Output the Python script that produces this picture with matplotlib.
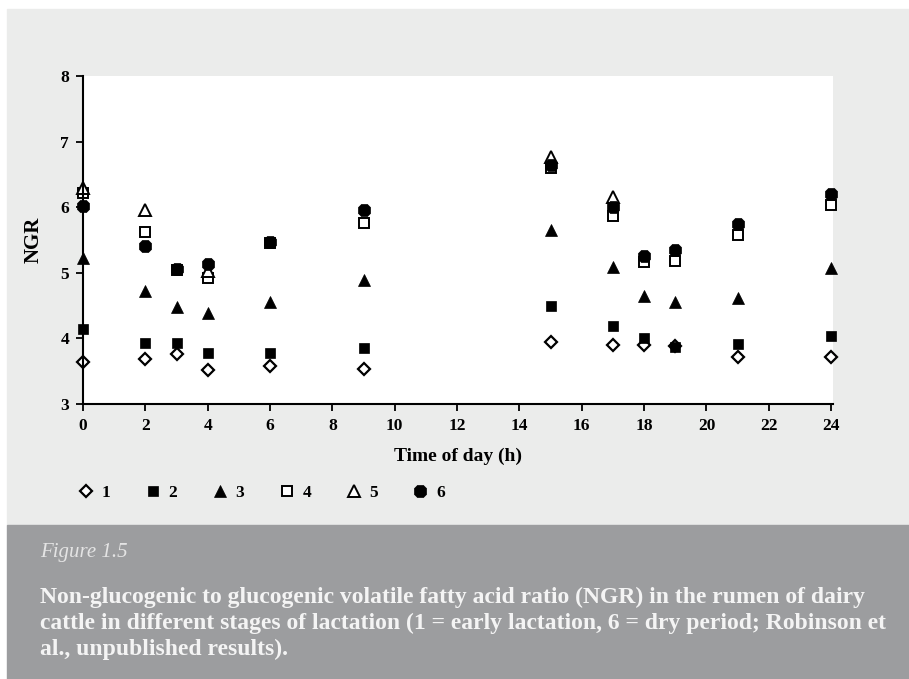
import numpy as np
import matplotlib
matplotlib.use("Agg")
import matplotlib.pyplot as plt
from matplotlib.patches import Rectangle

plt.rcParams['font.family'] = ['Liberation Serif', 'DejaVu Serif']

nan = np.nan
hours = [0, 2, 3, 4, 6, 9, 15, 17, 18, 19, 21, 24]
ngr1 = [3.64, 3.68, 3.76, 3.52, 3.58, 3.54, 3.95, 3.90, 3.90, 3.88, 3.71, 3.71]
ngr2 = [4.15, 3.93, 3.93, 3.78, 3.77, 3.85, 4.49, 4.19, 4.00, 3.87, 3.91, 4.03]
ngr3 = [5.22, 4.73, 4.48, 4.38, 4.56, 4.89, 5.65, 5.09, 4.64, 4.56, 4.62, 5.08]
ngr4 = [6.21, 5.62, 5.04, 4.92, 5.45, 5.76, 6.60, 5.86, 5.17, 5.18, 5.58, 6.03]
ngr5 = [6.29, 5.96, nan, 5.02, nan, nan, 6.77, 6.15, nan, nan, nan, nan]
ngr6 = [6.02, 5.41, 5.06, 5.14, 5.47, 5.95, 6.64, 6.00, 5.26, 5.35, 5.75, 6.20]
labels = ['1', '2', '3', '4', '5', '6']

W, H = 909, 679
fig = plt.figure(figsize=(W / 100, H / 100), dpi=100)
fig.patch.set_facecolor('white')

# background panels
fig.add_artist(Rectangle((7 / W, 1 - 525 / H), 1, (525 - 9) / H,
                         transform=fig.transFigure, color='#ebeceb', zorder=0))
fig.add_artist(Rectangle((7 / W, 0), 1, 1 - 525 / H,
                         transform=fig.transFigure, color='#9c9d9f', zorder=0))

ax = fig.add_axes([83 / W, 1 - 404 / H, 750 / W, 328 / H])
ax.set_facecolor('white')

styles = [
    dict(marker='D', ms=6.0, mfc='white', mec='black', mew=1.6),
    dict(marker='s', ms=7.2, mfc='black', mec='black', mew=0.5),
    dict(marker='^', ms=8.5, mfc='black', mec='black', mew=0.5),
    dict(marker='s', ms=6.8, mfc='white', mec='black', mew=1.4),
    dict(marker='^', ms=8.5, mfc='white', mec='black', mew=1.4),
    dict(marker='8', ms=9.5, mfc='black', mec='black', mew=0.5),
]
series = [ngr1, ngr2, ngr3, ngr4, ngr5, ngr6]
handles = []
for vals, st, lab in zip(series, styles, labels):
    h, = ax.plot(hours, vals, linestyle='none', label=lab, clip_on=False, **st)
    handles.append(h)

ax.set_xlim(0, 24.06)
ax.set_ylim(3, 8)
ax.set_xticks(range(0, 25, 2))
ax.set_yticks(range(3, 9))
for s in ['top', 'right']:
    ax.spines[s].set_visible(False)
for s in ['left', 'bottom']:
    ax.spines[s].set_linewidth(1.5)
ax.tick_params(direction='out', length=5, width=1.3, labelsize=12.5, pad=5)
for t in ax.get_xticklabels() + ax.get_yticklabels():
    t.set_fontweight('bold')

ax.set_xlabel('Time of day (h)', fontsize=14, fontweight='bold', labelpad=10)
ax.set_ylabel('NGR', fontsize=15, fontweight='bold', labelpad=12)

fig.legend(handles=handles, labels=labels, ncol=6, frameon=False,
           loc='center left', bbox_to_anchor=(60 / W, 1 - 493 / H),
           prop={'weight': 'bold', 'size': 12.5}, handletextpad=0.3,
           columnspacing=1.85, handlelength=1.2)

cap_color = '#f4f4f4'
fig.text(40 / W, 1 - 553 / H, 'Figure 1.5', fontsize=15, style='italic',
         color='#e4e4e4', va='center')
caption = ("Non-glucogenic to glucogenic volatile fatty acid ratio (NGR) in the rumen of dairy\n"
           "cattle in different stages of lactation (1 = early lactation, 6 = dry period; Robinson et\n"
           "al., unpublished results).")
fig.text(40 / W, 1 - 587 / H, caption, fontsize=17, fontweight='bold',
         color=cap_color, va='top', linespacing=1.3)

fig.savefig('out.png', dpi=100, facecolor=fig.get_facecolor())
